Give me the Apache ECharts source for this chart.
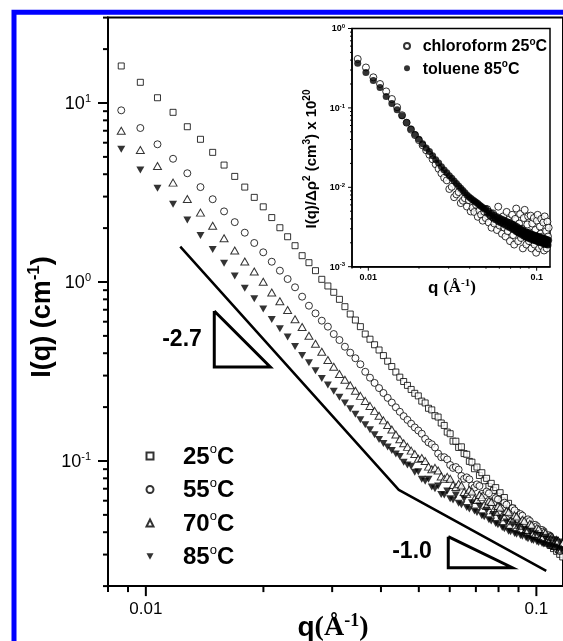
<!DOCTYPE html>
<html><head><meta charset="utf-8">
<script src="https://cdn.jsdelivr.net/npm/echarts@6.0.0/dist/echarts.min.js"></script>
<style>html,body{margin:0;padding:0;background:#fff}#c{width:563px;height:641px}</style>
</head><body><div id="c"></div>
<script>
// ---------- data ----------
const q = [0.00865,0.00968,0.01071,0.01174,0.01277,0.0138,0.01483,0.01586,0.01689,0.01792,
0.01895,0.01998,0.02101,0.02204,0.02307,0.0241,0.02513,0.02616,0.02719,0.02822,
0.02925,0.03028,0.03131,0.03234,0.03337,0.0344,0.03543,0.03646,0.03749,0.03852,
0.03955,0.04058,0.04161,0.04264,0.04367,0.0447,0.04573,0.04676,0.04779,0.04882,
0.04985,0.05088,0.05191,0.05294,0.05397,0.055,0.05603,0.05706,0.05809,0.05912,
0.06015,0.06118,0.06221,0.06324,0.06427,0.0653,0.06633,0.06736,0.06839,0.06942,
0.07045,0.07148,0.07251,0.07354,0.07457,0.0756,0.07663,0.07766,0.07869,0.07972,
0.08075,0.08178,0.08281,0.08384,0.08487,0.0859,0.08693,0.08796,0.08899,0.09002,
0.09105,0.09208,0.09311,0.09414,0.09517,0.0962,0.09723,0.09826,0.09929,0.10032,
0.10135,0.10238,0.10341,0.10444,0.10547,0.1065,0.10753,0.10856,0.10959,0.11062,
0.11165,0.11268,0.11371,0.11474,0.11577,0.1168,0.11783];

const I25 = [16.1,13.05,10.7,8.87,7.37,6.27,5.30,4.50,3.89,3.39,
2.97,2.63,2.29,2.01,1.79,1.595,1.403,1.282,1.157,1.035,
0.950,0.876,0.800,0.728,0.662,0.613,0.563,0.512,0.479,0.446,
0.417,0.388,0.361,0.337,0.314,0.294,0.278,0.2645,0.251,0.2388,
0.231,0.216,0.211,0.197,0.193,0.179,0.176,0.163,0.158,0.145,
0.142,0.129,0.129,0.119,0.120,0.110,0.109,0.0995,0.0985,0.0905,
0.0925,0.0830,0.0860,0.0775,0.0800,0.0720,0.0750,0.0685,0.0710,0.0635,
0.0665,0.0600,0.0625,0.0555,0.0580,0.0520,0.0545,0.0490,0.0515,0.0460,
0.0490,0.0435,0.0462,0.0412,0.0440,0.0398,0.0428,0.0386,0.0415,0.0378,
0.0402,0.0366,0.0394,0.0356,0.0385,0.0348,0.0372,0.0337,0.0358,0.0324,
0.0345,0.0313,0.0334,0.0301,0.0320,0.0291,0.0310];

const I55 = [9.10,7.25,5.88,4.88,4.05,3.39,2.90,2.48,2.16,1.886,
1.652,1.465,1.298,1.157,1.039,0.934,0.828,0.737,0.668,0.608,
0.563,0.512,0.474,0.435,0.403,0.375,0.347,0.315,0.292,0.273,
0.2555,0.2398,0.2252,0.212,0.1995,0.1883,0.178,0.1697,0.1616,0.154,
0.148,0.142,0.133,0.127,0.124,0.119,0.110,0.105,0.105,0.102,
0.0950,0.0915,0.0925,0.0895,0.0825,0.0795,0.0810,0.0790,0.0730,0.0710,
0.0740,0.0725,0.0655,0.0640,0.0675,0.0660,0.0595,0.0585,0.0620,0.0610,
0.0552,0.0545,0.0585,0.0570,0.0515,0.0505,0.0545,0.0530,0.0478,0.0470,
0.0505,0.0495,0.0445,0.0438,0.0472,0.0462,0.0415,0.0410,0.0440,0.0432,
0.0387,0.0382,0.0412,0.0405,0.0362,0.0356,0.0385,0.0380,0.0339,0.0333,
0.0362,0.0356,0.0318,0.0314,0.0341,0.0336,0.0300];

const I70 = [7.00,5.46,4.45,3.59,2.91,2.44,2.06,1.757,1.50,1.302,
1.145,1.004,0.874,0.781,0.698,0.619,0.561,0.5005,0.4516,0.408,
0.3666,0.3363,0.306,0.2845,0.2652,0.2470,0.2310,0.2166,0.2031,0.1905,
0.1789,0.1686,0.1589,0.1498,0.1406,0.1323,0.1257,0.1199,0.1143,0.1094,
0.103,0.104,0.100,0.093,0.090,0.0915,0.0885,0.082,0.0795,0.0815,
0.0795,0.0735,0.0715,0.0745,0.0730,0.0670,0.0655,0.0690,0.0675,0.0615,
0.0605,0.0645,0.0630,0.0570,0.0560,0.0600,0.0590,0.0530,0.0520,0.0560,
0.0550,0.0495,0.0485,0.0525,0.0518,0.0465,0.0460,0.0497,0.0490,0.0440,
0.0435,0.0470,0.0463,0.0416,0.0412,0.0446,0.0440,0.0396,0.0390,0.0423,
0.0417,0.0375,0.0370,0.0401,0.0396,0.0356,0.0351,0.0381,0.0377,0.0339,
0.0335,0.0363,0.0359,0.0323,0.0320,0.0347,0.0342];

const I85 = [5.51,4.22,3.34,2.72,2.22,1.819,1.519,1.272,1.080,0.922,
0.806,0.707,0.617,0.548,0.493,0.436,0.3886,0.3537,0.3190,0.2890,
0.2658,0.2451,0.2269,0.2107,0.1957,0.1823,0.1701,0.1593,0.1494,0.1402,
0.1318,0.1252,0.1196,0.1143,0.1093,0.1060,0.0985,0.0950,0.0935,0.0865,
0.0870,0.0790,0.0770,0.0790,0.0715,0.0700,0.0725,0.0650,0.0645,0.0680,
0.0615,0.0605,0.0645,0.0580,0.0570,0.0615,0.0550,0.0540,0.0585,0.0525,
0.0515,0.0560,0.0495,0.0488,0.0530,0.0470,0.0462,0.0502,0.0447,0.0440,
0.0478,0.0425,0.0418,0.0456,0.0405,0.0402,0.0440,0.0394,0.0390,0.0427,
0.0383,0.0380,0.0415,0.0372,0.0368,0.0403,0.0362,0.0360,0.0392,0.0354,
0.0351,0.0384,0.0346,0.0344,0.0375,0.0339,0.0337,0.0367,0.0332,0.0330,
0.0360,0.0325,0.0323,0.0353,0.0319,0.0317,0.0346];

// inset (I/Δρ² ×1e20)
const chloroform25 = [0.413,0.323,0.243,0.200,0.1613,0.1294,0.1020,0.0809,0.0651,0.0533,
0.0454,0.0392,0.0338,0.0293,0.0257,0.0225,0.0195,0.0171,0.01497,0.01317,
0.01224,0.00952,0.01014,0.0075,0.00814,0.0087,0.00632,0.00678,0.00728,0.00572,
0.0069,0.00496,0.00553,0.00488,0.00602,0.00425,0.00509,0.00452,0.0038,0.00493,
0.00409,0.0053,0.0036,0.0044,0.0031,0.0047,0.0035,0.0041,0.0029,0.0057,
0.0033,0.0038,0.0026,0.0043,0.0031,0.0024,0.0049,0.0028,0.0039,0.0021,
0.0036,0.0045,0.0025,0.0019,0.0040,0.0054,0.0028,0.0021,0.0035,0.0046,
0.0023,0.0030,0.0017,0.0041,0.0052,0.0024,0.0019,0.0034,0.0043,0.0021,
0.0027,0.0044,0.0017,0.0035,0.0024,0.0041,0.0019,0.0029,0.0015,0.0038,
0.0045,0.0021,0.0017,0.0032,0.0026,0.0040,0.0018,0.0024,0.0036,0.0016,
0.0043,0.0022,0.0028,0.0017,0.0037,0.0024,0.0031];

const toluene85 = [0.365,0.2795,0.2212,0.1801,0.1388,0.1137,0.0949,0.0795,0.0655,0.0542,
0.0461,0.0404,0.0353,0.0313,0.0282,0.0249,0.0222,0.0202,0.0182,0.0165,
0.0152,0.0140,0.01297,0.01204,0.01118,0.01042,0.00972,0.0091,0.00854,0.00801,
0.00762,0.00728,0.00699,0.00672,0.00647,0.00623,0.00599,0.00578,0.00558,0.00534,
0.00540,0.00470,0.00500,0.00440,0.00470,0.00412,0.00445,0.00390,0.00425,0.00372,
0.00410,0.00358,0.00395,0.00345,0.00385,0.00332,0.00370,0.00322,0.00360,0.00310,
0.00350,0.00300,0.00340,0.00290,0.00328,0.00278,0.00318,0.00268,0.00306,0.00260,
0.00296,0.00252,0.00288,0.00243,0.00278,0.00238,0.00274,0.00232,0.00268,0.00228,
0.00262,0.00224,0.00258,0.00219,0.00253,0.00215,0.00249,0.00212,0.00245,0.00209,
0.00241,0.00206,0.00238,0.00203,0.00234,0.00200,0.00231,0.00197,0.00228,0.00195,
0.00225,0.00192,0.00221,0.00190,0.00218,0.00187,0.00216];

const seriesNames = ['25°C','55°C','70°C','85°C'];
const insetNames = ['chloroform 25°C','toluene 85°C'];

// guide lines drawn in data coordinates
const slopeLine = [[0.01225,1.575],[0.04443,0.0689],[0.106,0.0243]];
const triangle27 = [[0.01497,0.6887],[0.01497,0.335],[0.02083,0.335],[0.01497,0.6887]];
const triangle10 = [[0.05948,0.03777],[0.05948,0.02535],[0.0868,0.02535],[0.05948,0.03777]];
const slopeLabels = ['-2.7','-1.0'];

// axis ranges and tick values
const xRange = [0.008, 0.117], yRange = [0.02, 30];
const xRangeInset = [0.008, 0.12], yRangeInset = [0.001, 1];
const xMajor = [0.01, 0.1];
const xMinor = [0.008,0.009,0.02,0.03,0.04,0.05,0.06,0.07,0.08,0.09];
const yMajor = [0.1, 1, 10];
const yMinor = [0.02,0.03,0.04,0.05,0.06,0.07,0.08,0.09,0.2,0.3,0.4,0.5,0.6,0.7,0.8,0.9,2,3,4,5,6,7,8,9,20,30];
const yMajorInset = [0.001,0.01,0.1,1];
const yMinorInset = [0.002,0.003,0.004,0.005,0.006,0.007,0.008,0.009,0.02,0.03,0.04,0.05,0.06,0.07,0.08,0.09,0.2,0.3,0.4,0.5,0.6,0.7,0.8,0.9];

// ---------- chart ----------
const SANS = 'Liberation Sans', SERIF = 'Liberation Serif';
const zip = (xs, ys) => xs.map((x, i) => [x, ys[i]]);
function pow10Exp(v) {
  const l = Math.log10(v), e = Math.round(l);
  return Math.abs(l - e) < 1e-6 ? e : null;
}
function xTicks(gi, values, yMin, len, w) {
  return { type: 'custom', xAxisIndex: gi, yAxisIndex: gi, silent: true, clip: false, z: 6,
    data: values.map(v => [v, yMin]),
    renderItem: (p, api) => { const c = api.coord([api.value(0), api.value(1)]);
      return { type: 'line', shape: { x1: c[0], y1: c[1], x2: c[0], y2: c[1] + len }, style: { stroke: '#000', lineWidth: w } }; } };
}
function yTicks(gi, values, xMin, len, w) {
  return { type: 'custom', xAxisIndex: gi, yAxisIndex: gi, silent: true, clip: false, z: 6,
    data: values.map(v => [xMin, v]),
    renderItem: (p, api) => { const c = api.coord([api.value(0), api.value(1)]);
      return { type: 'line', shape: { x1: c[0], y1: c[1], x2: c[0] - len, y2: c[1] }, style: { stroke: '#000', lineWidth: w } }; } };
}
const openStyle = { color: '#fff', borderColor: '#000', borderWidth: 1 };
const downTri = 'path://M0,0L10,0L5,9Z';

const chart = echarts.init(document.getElementById('c'), null, { renderer: 'canvas' });
chart.setOption({
  animation: false,
  backgroundColor: '#fff',
  textStyle: { fontFamily: SANS, color: '#000' },
  grid: [
    { left: 108, top: 17.6, width: 455, height: 568.5, show: true, borderColor: '#000', borderWidth: 2, containLabel: false, outerBoundsMode: 'none' },
    { left: 352, top: 28.5, width: 198, height: 238.2, show: true, borderColor: '#000', borderWidth: 1.5, containLabel: false, outerBoundsMode: 'none', backgroundColor: '#fff', z: 10 }
  ],
  xAxis: [
    { type: 'log', gridIndex: 0, min: xRange[0], max: xRange[1],
      axisLine: { lineStyle: { color: '#000', width: 2 } }, axisTick: { show: false }, splitLine: { show: false },
      axisLabel: { margin: 15, color: '#000', fontFamily: SANS, fontSize: 17,
        formatter: v => { const e = pow10Exp(v); return e === null ? '' : (e < 0 ? Math.pow(10, e).toFixed(-e) : String(Math.pow(10, e))); } } },
    { type: 'log', gridIndex: 1, min: xRangeInset[0], max: xRangeInset[1], z: 10,
      axisLine: { lineStyle: { color: '#000', width: 1.5 } }, axisTick: { show: false }, splitLine: { show: false },
      axisLabel: { margin: 6, color: '#000', fontFamily: SANS, fontSize: 9, fontWeight: 'bold',
        formatter: v => { const e = pow10Exp(v); return e === null ? '' : (e < 0 ? Math.pow(10, e).toFixed(-e) : String(Math.pow(10, e))); } } }
  ],
  yAxis: [
    { type: 'log', gridIndex: 0, min: yRange[0], max: yRange[1],
      axisLine: { lineStyle: { color: '#000', width: 2 } }, axisTick: { show: false }, splitLine: { show: false },
      axisLabel: { margin: 17,
        formatter: v => { const e = pow10Exp(v); return e === null ? '' : '{b|10}{s|' + e + '}'; },
        rich: { b: { fontSize: 18, fontFamily: SANS, color: '#000', lineHeight: 20, verticalAlign: 'bottom' },
                s: { fontSize: 11, fontFamily: SANS, color: '#000', lineHeight: 11, verticalAlign: 'top' } } } },
    { type: 'log', gridIndex: 1, min: yRangeInset[0], max: yRangeInset[1], z: 10,
      axisLine: { lineStyle: { color: '#000', width: 1.5 } }, axisTick: { show: false }, splitLine: { show: false },
      axisLabel: { margin: 7,
        formatter: v => { const e = pow10Exp(v); return e === null ? '' : '{b|10}{s|' + e + '}'; },
        rich: { b: { fontSize: 9, fontWeight: 'bold', fontFamily: SANS, color: '#000', lineHeight: 10, verticalAlign: 'bottom' },
                s: { fontSize: 6, fontWeight: 'bold', fontFamily: SANS, color: '#000', lineHeight: 6, verticalAlign: 'top' } } } }
  ],
  legend: [
    { data: seriesNames, orient: 'vertical', left: 145.5, top: 443, padding: 0, itemWidth: 7, itemHeight: 7, itemGap: 7.5,
      selectedMode: false,
      formatter: n => '{g| }{n|' + n.replace('°C', '') + '}{s|o}{n|C}',
      textStyle: { rich: {
        g: { width: 24.5, fontSize: 10 },
        n: { fontSize: 24, fontWeight: 'bold', fontFamily: SANS, color: '#000', lineHeight: 26, verticalAlign: 'bottom' },
        s: { fontSize: 13, fontFamily: SANS, color: '#000', lineHeight: 13, verticalAlign: 'top' } } } },
    { data: insetNames, orient: 'vertical', left: 403, top: 37, padding: 0, itemWidth: 6, itemHeight: 6, itemGap: 4.3,
      selectedMode: false, z: 12,
      formatter: n => '{g| }{n|' + n.replace('°C', '') + '}{s|o}{n|C}',
      textStyle: { rich: {
        g: { width: 7.7, fontSize: 8 },
        n: { fontSize: 16, fontWeight: 'bold', fontFamily: SANS, color: '#000', lineHeight: 18, verticalAlign: 'bottom' },
        s: { fontSize: 10, fontWeight: 'bold', fontFamily: SANS, color: '#000', lineHeight: 10, verticalAlign: 'top' } } } }
  ],
  series: [
    { name: seriesNames[0], type: 'scatter', xAxisIndex: 0, yAxisIndex: 0, symbol: 'rect', symbolSize: 6, itemStyle: openStyle, data: zip(q, I25) },
    { name: seriesNames[1], type: 'scatter', xAxisIndex: 0, yAxisIndex: 0, symbol: 'circle', symbolSize: 7, itemStyle: openStyle, data: zip(q, I55) },
    { name: seriesNames[2], type: 'scatter', xAxisIndex: 0, yAxisIndex: 0, symbol: 'triangle', symbolSize: [8, 7], itemStyle: openStyle, data: zip(q, I70) },
    { name: seriesNames[3], type: 'scatter', xAxisIndex: 0, yAxisIndex: 0, symbol: downTri, symbolSize: [8, 7], itemStyle: { color: '#000' }, data: zip(q, I85) },
    { type: 'line', xAxisIndex: 0, yAxisIndex: 0, data: slopeLine, showSymbol: false, symbol: 'none', silent: true,
      lineStyle: { color: '#000', width: 2.5 }, z: 3 },
    { type: 'line', xAxisIndex: 0, yAxisIndex: 0, data: triangle27, showSymbol: false, symbol: 'none', silent: true,
      lineStyle: { color: '#000', width: 3, join: 'miter' }, z: 3 },
    { type: 'line', xAxisIndex: 0, yAxisIndex: 0, data: triangle10, showSymbol: false, symbol: 'none', silent: true,
      lineStyle: { color: '#000', width: 3, join: 'miter' }, z: 3 },
    xTicks(0, xMajor, yRange[0], 10, 2), xTicks(0, xMinor, yRange[0], 6, 2),
    yTicks(0, yMajor, xRange[0], 10, 2), yTicks(0, yMinor, xRange[0], 5, 2),
    { name: insetNames[0], type: 'scatter', xAxisIndex: 1, yAxisIndex: 1, symbol: 'circle', symbolSize: 7, itemStyle: openStyle, data: zip(q, chloroform25), z: 11 },
    { name: insetNames[1], type: 'scatter', xAxisIndex: 1, yAxisIndex: 1, symbol: 'circle', symbolSize: 7, itemStyle: { color: '#000' }, data: zip(q, toluene85), z: 11 },
    Object.assign(xTicks(1, xMajor, yRangeInset[0], 4, 1), { z: 12 }), Object.assign(xTicks(1, xMinor, yRangeInset[0], 2, 1), { z: 12 }),
    Object.assign(yTicks(1, yMajorInset, xRangeInset[0], 4, 1), { z: 12 }), Object.assign(yTicks(1, yMinorInset, xRangeInset[0], 2, 1), { z: 12 })
  ],
  graphic: [
    { type: 'text', x: 41, y: 317, rotation: Math.PI / 2, z: 20,
      style: { text: '{a|I(q) (cm}{s|-1}{a|)}', align: 'center', verticalAlign: 'middle', fill: '#000',
        rich: { a: { fontSize: 27, fontWeight: 'bold', fontFamily: SANS, fill: '#000', lineHeight: 30, verticalAlign: 'bottom' },
                s: { fontSize: 17, fontWeight: 'bold', fontFamily: SANS, fill: '#000', lineHeight: 17, verticalAlign: 'top' } } } },
    { type: 'text', x: 333, y: 627, z: 20,
      style: { text: '{a|q}{b|(Å}{s|-1}{b|)}', align: 'center', verticalAlign: 'middle', fill: '#000',
        rich: { a: { fontSize: 28, fontWeight: 'bold', fontFamily: SANS, fill: '#000', lineHeight: 30, verticalAlign: 'bottom' },
                b: { fontSize: 28, fontWeight: 'bold', fontFamily: SERIF, fill: '#000', lineHeight: 30, verticalAlign: 'bottom' },
                s: { fontSize: 18, fontWeight: 'bold', fontFamily: SERIF, fill: '#000', lineHeight: 18, verticalAlign: 'top' } } } },
    { type: 'text', x: 311, y: 159, rotation: Math.PI / 2, z: 20,
      style: { text: '{a|I(q)/Δρ}{s|2}{a| (cm}{s|3}{a|) x 10}{s|20}', align: 'center', verticalAlign: 'middle', fill: '#000',
        rich: { a: { fontSize: 15, fontWeight: 'bold', fontFamily: SANS, fill: '#000', lineHeight: 17, verticalAlign: 'bottom' },
                s: { fontSize: 10, fontWeight: 'bold', fontFamily: SANS, fill: '#000', lineHeight: 10, verticalAlign: 'top' } } } },
    { type: 'text', x: 452, y: 287, z: 20,
      style: { text: '{a|q }{b|(Å}{s|-1}{b|)}', align: 'center', verticalAlign: 'middle', fill: '#000',
        rich: { a: { fontSize: 17, fontWeight: 'bold', fontFamily: SANS, fill: '#000', lineHeight: 19, verticalAlign: 'bottom' },
                b: { fontSize: 17, fontWeight: 'bold', fontFamily: SERIF, fill: '#000', lineHeight: 19, verticalAlign: 'bottom' },
                s: { fontSize: 11, fontWeight: 'bold', fontFamily: SERIF, fill: '#000', lineHeight: 11, verticalAlign: 'top' } } } },
    { type: 'text', x: 182, y: 340, z: 20,
      style: { text: slopeLabels[0], font: 'bold 23px "Liberation Sans"', fill: '#000', align: 'center', verticalAlign: 'middle' } },
    { type: 'text', x: 412, y: 552, z: 20,
      style: { text: slopeLabels[1], font: 'bold 23px "Liberation Sans"', fill: '#000', align: 'center', verticalAlign: 'middle' } },
    { type: 'rect', z: 30, silent: true, shape: { x: 14, y: 12.3, width: 700, height: 800 },
      style: { fill: 'none', stroke: '#0000ff', lineWidth: 5 } }
  ]
});
</script>
</body></html>
